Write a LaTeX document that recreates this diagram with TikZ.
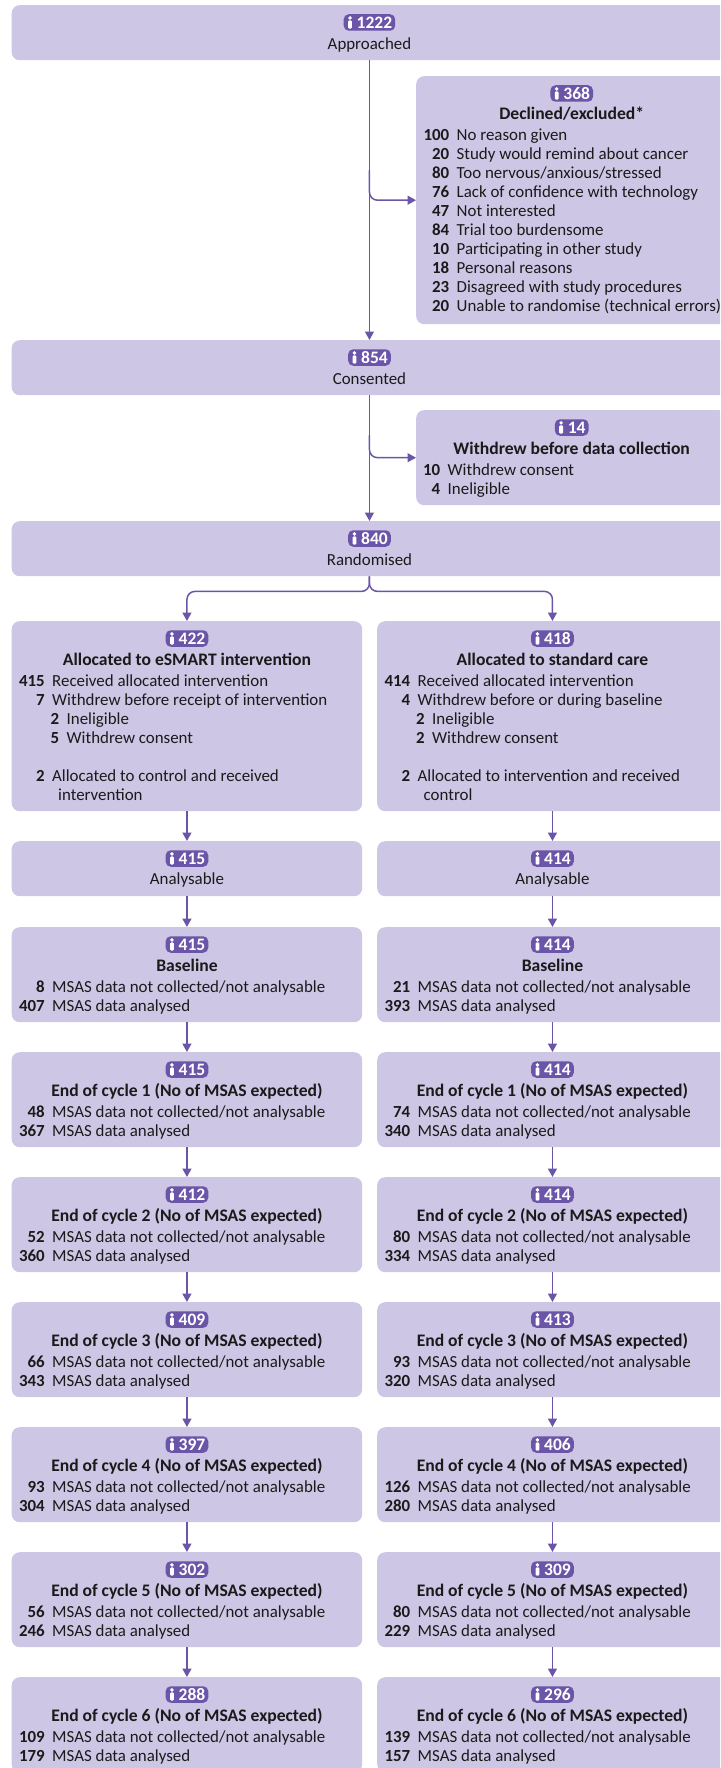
\documentclass[tikz,border=0pt]{standalone}
\usepackage{fontspec}
\setmainfont{Carlito}
\usetikzlibrary{arrows.meta,calc}

\definecolor{boxlilac}{RGB}{205,198,228}
\definecolor{consortpurple}{RGB}{106,85,168}
\definecolor{inktext}{RGB}{26,26,26}

% count badge with the person icon: name, position, number
\newcommand{\countbadge}[3]{%
  \node[badge] (#1) at #2 {\hspace*{10pt}#3};
  \fill[white] ($(#1.west)+(6.5,-4.6)$) circle (1.9pt);
  \fill[white,rounded corners=1.2pt] ($(#1.west)+(4.6,-2.2)$) rectangle ($(#1.west)+(8.4,6.2)$);
}

% bold number, then its reason
\newcommand{\nline}[3][27pt]{\makebox[#1][r]{\bfseries #2}\hspace{7.5pt}#3}

% one stage box of a study arm: name, left, top, count, heading, not analysed, analysed
\newcommand{\stagebox}[7]{%
  \node[box,minimum width=350.5pt,minimum height=95pt] (#1) at (#2,#3) {};
  \countbadge{#1n}{($(#1.north)+(0,17.5)$)}{#4}
  \node[headline] (#1h) at ($(#1.north)+(0,44)$) {#5};
  \node[rows] (#1r) at ($(#1.north west)+(6,65)$) {\begin{tabular}[t]{@{}l@{}}
    \nline{#6}{MSAS data not collected/not analysable}\\
    \nline{#7}{MSAS data analysed}\end{tabular}};
}

\begin{document}
\begin{tikzpicture}[x=1pt,y=-1pt,
    every node/.style={font=\fontsize{16.9}{19}\selectfont,text=inktext},
    box/.style={fill=boxlilac,rounded corners=8pt,inner sep=0pt,anchor=north west},
    badge/.style={fill=consortpurple,text=white,rounded corners=5pt,inner xsep=3pt,inner ysep=0pt,
        minimum height=16.5pt,font=\fontsize{17.5}{19}\selectfont\bfseries},
    headline/.style={anchor=base,inner sep=0pt,font=\fontsize{17.6}{19}\selectfont\bfseries},
    subline/.style={anchor=base,inner sep=0pt},
    rows/.style={anchor=base west,inner sep=0pt},
    flow/.style={draw=consortpurple,line width=1.5pt,-{Triangle[length=8.5pt,width=9pt]}}]

    \useasboundingbox (0,0) rectangle (720,1768);
    \clip (0,0) rectangle (720,1768);

    % Approached
    \node[box,minimum width=715.5pt,minimum height=55pt] (approached) at (11.5,5) {};
    \countbadge{approachedn}{($(approached.north)+(0,17.5)$)}{1222}
    \node[subline] (approachedt) at ($(approached.north)+(0,45)$) {Approached};

    % Declined or excluded
    \node[box,minimum width=311pt,minimum height=248pt] (declined) at (416,76) {};
    \countbadge{declinedn}{($(declined.north)+(0,17.5)$)}{368}
    \node[headline] (declinedh) at ($(declined.north)+(0,44)$) {Declined/excluded*};
    \node[rows] (declinedr) at ($(declined.north west)+(6,65)$) {\begin{tabular}[t]{@{}l@{}}
        \nline{100}{No reason given}\\
        \nline{20}{Study would remind about cancer}\\
        \nline{80}{Too nervous/anxious/stressed}\\
        \nline{76}{Lack of confidence with technology}\\
        \nline{47}{Not interested}\\
        \nline{84}{Trial too burdensome}\\
        \nline{10}{Participating in other study}\\
        \nline{18}{Personal reasons}\\
        \nline{23}{Disagreed with study procedures}\\
        \nline{20}{Unable to randomise (technical errors)}\end{tabular}};

    % Consented
    \node[box,minimum width=715.5pt,minimum height=55pt] (consented) at (11.5,340) {};
    \countbadge{consentedn}{($(consented.north)+(0,17.5)$)}{854}
    \node[subline] (consentedt) at ($(consented.north)+(0,44)$) {Consented};

    % Withdrew before data collection
    \node[box,minimum width=311pt,minimum height=95pt] (withdrew) at (416,410) {};
    \countbadge{withdrewn}{($(withdrew.north)+(0,17.5)$)}{14}
    \node[headline] (withdrewh) at ($(withdrew.north)+(0,44)$) {Withdrew before data collection};
    \node[rows] (withdrewr) at ($(withdrew.north west)+(6,65)$) {\begin{tabular}[t]{@{}l@{}}
        \nline[18pt]{10}{Withdrew consent}\\
        \nline[18pt]{4}{Ineligible}\end{tabular}};

    % Randomised
    \node[box,minimum width=715.5pt,minimum height=55pt] (randomised) at (11.5,521) {};
    \countbadge{randomisedn}{($(randomised.north)+(0,17.5)$)}{840}
    \node[subline] (randomisedt) at ($(randomised.north)+(0,44)$) {Randomised};

    % Allocation, eSMART arm
    \node[box,minimum width=350.5pt,minimum height=190pt] (allocE) at (11.5,621) {};
    \countbadge{allocEn}{($(allocE.north)+(0,17.5)$)}{422}
    \node[headline] (allocEh) at ($(allocE.north)+(0,44)$) {Allocated to eSMART intervention};
    \node[rows] (allocEr) at ($(allocE.north west)+(6,65.5)$) {\begin{tabular}[t]{@{}l@{}}
        \nline{415}{Received allocated intervention}\\
        \nline{7}{Withdrew before receipt of intervention}\\
        \hspace*{14.5pt}\nline{2}{Ineligible}\\
        \hspace*{14.5pt}\nline{5}{Withdrew consent}\\
        \mbox{}\\
        \nline{2}{Allocated to control and received}\\
        \hspace*{40.5pt}intervention\end{tabular}};

    % Allocation, standard care arm
    \node[box,minimum width=350.5pt,minimum height=190pt] (allocS) at (377,621) {};
    \countbadge{allocSn}{($(allocS.north)+(0,17.5)$)}{418}
    \node[headline] (allocSh) at ($(allocS.north)+(0,44)$) {Allocated to standard care};
    \node[rows] (allocSr) at ($(allocS.north west)+(6,65.5)$) {\begin{tabular}[t]{@{}l@{}}
        \nline{414}{Received allocated intervention}\\
        \nline{4}{Withdrew before or during baseline}\\
        \hspace*{14.5pt}\nline{2}{Ineligible}\\
        \hspace*{14.5pt}\nline{2}{Withdrew consent}\\
        \mbox{}\\
        \nline{2}{Allocated to intervention and received}\\
        \hspace*{40.5pt}control\end{tabular}};

    % Analysable
    \node[box,minimum width=350.5pt,minimum height=55pt] (analE) at (11.5,841) {};
    \countbadge{analEn}{($(analE.north)+(0,17.5)$)}{415}
    \node[subline] (analEt) at ($(analE.north)+(0,43)$) {Analysable};
    \node[box,minimum width=350.5pt,minimum height=55pt] (analS) at (377,841) {};
    \countbadge{analSn}{($(analS.north)+(0,17.5)$)}{414}
    \node[subline] (analSt) at ($(analS.north)+(0,43)$) {Analysable};

    % Baseline and the six cycles
    \stagebox{baseE}{11.5}{927}{415}{Baseline}{8}{407}
    \stagebox{baseS}{377}{927}{414}{Baseline}{21}{393}
    \stagebox{c1E}{11.5}{1052}{415}{End of cycle 1 (No of MSAS expected)}{48}{367}
    \stagebox{c1S}{377}{1052}{414}{End of cycle 1 (No of MSAS expected)}{74}{340}
    \stagebox{c2E}{11.5}{1177}{412}{End of cycle 2 (No of MSAS expected)}{52}{360}
    \stagebox{c2S}{377}{1177}{414}{End of cycle 2 (No of MSAS expected)}{80}{334}
    \stagebox{c3E}{11.5}{1302}{409}{End of cycle 3 (No of MSAS expected)}{66}{343}
    \stagebox{c3S}{377}{1302}{413}{End of cycle 3 (No of MSAS expected)}{93}{320}
    \stagebox{c4E}{11.5}{1427}{397}{End of cycle 4 (No of MSAS expected)}{93}{304}
    \stagebox{c4S}{377}{1427}{406}{End of cycle 4 (No of MSAS expected)}{126}{280}
    \stagebox{c5E}{11.5}{1552}{302}{End of cycle 5 (No of MSAS expected)}{56}{246}
    \stagebox{c5S}{377}{1552}{309}{End of cycle 5 (No of MSAS expected)}{80}{229}
    \stagebox{c6E}{11.5}{1677}{288}{End of cycle 6 (No of MSAS expected)}{109}{179}
    \stagebox{c6S}{377}{1677}{296}{End of cycle 6 (No of MSAS expected)}{139}{157}

    % Main stem and side branches
    \draw[flow] (approached) -- (consented);
    \draw[flow,rounded corners=8pt] ($(approached.south)+(0,110)$) |- (declined.west);
    \draw[flow] (consented) -- (randomised);
    \draw[flow,rounded corners=8pt] ($(consented.south)+(0,40)$) |- (withdrew.west);

    % Split into the two arms
    \draw[flow,rounded corners=8pt] (randomised.south) -- ++(0,15) -| (allocE.north);
    \draw[flow,rounded corners=8pt] (randomised.south) -- ++(0,15) -| (allocS.north);

    % eSMART arm
    \draw[flow] (allocE) -- (analE);
    \draw[flow] (analE) -- (baseE);
    \draw[flow] (baseE) -- (c1E);
    \draw[flow] (c1E) -- (c2E);
    \draw[flow] (c2E) -- (c3E);
    \draw[flow] (c3E) -- (c4E);
    \draw[flow] (c4E) -- (c5E);
    \draw[flow] (c5E) -- (c6E);

    % Standard care arm
    \draw[flow] (allocS) -- (analS);
    \draw[flow] (analS) -- (baseS);
    \draw[flow] (baseS) -- (c1S);
    \draw[flow] (c1S) -- (c2S);
    \draw[flow] (c2S) -- (c3S);
    \draw[flow] (c3S) -- (c4S);
    \draw[flow] (c4S) -- (c5S);
    \draw[flow] (c5S) -- (c6S);

\end{tikzpicture}
\end{document}
